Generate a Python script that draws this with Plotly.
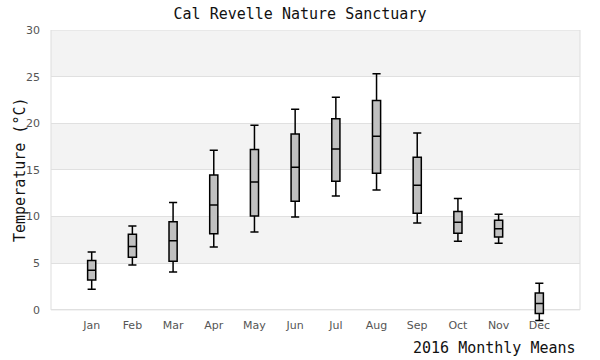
import plotly.graph_objects as go

months = ["Jan", "Feb", "Mar", "Apr", "May", "Jun", "Jul", "Aug", "Sep", "Oct", "Nov", "Dec"]
low = [2.2, 4.8, 4.05, 6.75, 8.35, 9.95, 12.2, 12.85, 9.3, 7.35, 7.15, -1.15]
q1 = [3.2, 5.65, 5.2, 8.15, 10.05, 11.65, 13.8, 14.65, 10.35, 8.2, 7.8, -0.4]
median = [4.25, 6.8, 7.4, 11.25, 13.7, 15.3, 17.25, 18.6, 13.35, 9.4, 8.7, 0.68]
q3 = [5.3, 8.1, 9.45, 14.45, 17.2, 18.85, 20.5, 22.45, 16.35, 10.55, 9.6, 1.8]
high = [6.2, 9.0, 11.5, 17.1, 19.8, 21.5, 22.8, 25.3, 18.95, 11.95, 10.25, 2.85]
y_ticks = [0, 5, 10, 15, 20, 25, 30]

mono = "DejaVu Sans Mono"
sans = "DejaVu Sans"

fig = go.Figure()
fig.add_trace(go.Box(
    x=months, q1=q1, median=median, q3=q3, lowerfence=low, upperfence=high,
    fillcolor="#c0c0c0", line=dict(color="#000000", width=1.5),
    width=0.2, whiskerwidth=1, boxpoints=False, hoverinfo="skip",
    showlegend=False,
))

shapes = []
for lo in [5, 15, 25]:
    shapes.append(dict(type="rect", xref="paper", yref="y", x0=0, x1=1, y0=lo, y1=lo + 5,
                       fillcolor="#f3f3f3", line=dict(width=0), layer="below"))
shapes.append(dict(type="rect", xref="paper", yref="y", x0=0, x1=1, y0=0, y1=30,
                   fillcolor="rgba(0,0,0,0)", line=dict(color="#dddddd", width=1), layer="below"))
fig.update_layout(shapes=shapes)

fig.update_layout(
    width=600, height=360,
    margin=dict(l=51, r=20, t=30, b=38, autoexpand=False),
    paper_bgcolor="white", plot_bgcolor="white",
    title=dict(text="Cal Revelle Nature Sanctuary", x=0.5, xanchor="center",
               y=1 - 14 / 360, yanchor="middle",
               font=dict(family=mono, size=15, color="#111111")),
    xaxis=dict(type="category", range=[-1, 12], showgrid=False, zeroline=False,
               showline=False, ticks="", automargin=False,
               tickfont=dict(family=sans, size=11, color="#555555"),
               ticklabelstandoff=-5),
    yaxis=dict(range=[-1.3, 30], tickvals=y_ticks, showgrid=True, gridcolor="#e0e0e0",
               gridwidth=1, zeroline=False, showline=False, ticks="", automargin=False,
               tickfont=dict(family=sans, size=11, color="#555555"), ticklabelstandoff=10),
    annotations=[
        dict(text="2016 Monthly Means", xref="paper", yref="paper", x=(578 - 51) / 529,
             y=-(348 - 322) / 292, xanchor="right", yanchor="middle", showarrow=False,
             font=dict(family=mono, size=15, color="#111111")),
        dict(text="Temperature (°C)", xref="paper", yref="paper", x=-(51 - 20) / 529,
             y=(322 - 170) / 292, xanchor="center", yanchor="middle", textangle=-90,
             showarrow=False, font=dict(family=mono, size=15, color="#111111")),
    ],
)

fig.write_html("out.html", config={"displayModeBar": False},
               post_script="document.body.style.margin='0';document.body.style.overflow='hidden';")
